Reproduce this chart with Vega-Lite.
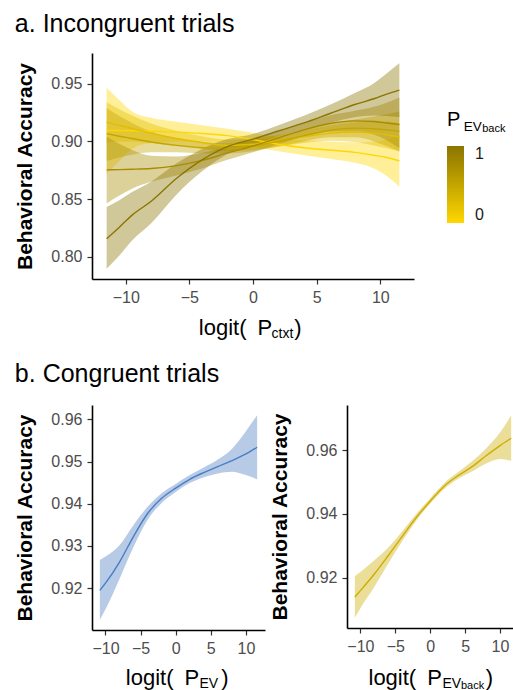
{
  "$schema": "https://vega.github.io/schema/vega-lite/v6.json",
  "background": "white",
  "padding": {"left": 14, "top": 12, "right": 0, "bottom": 0},
  "config": {
    "font": "Liberation Sans",
    "view": {"stroke": null},
    "axis": {
      "grid": false,
      "domainColor": "black",
      "domainWidth": 1.6,
      "tickColor": "#333333",
      "tickWidth": 1.2,
      "tickSize": 5,
      "labelFont": "Liberation Sans",
      "labelFontSize": 16,
      "labelColor": "#4D4D4D",
      "labelPadding": 5,
      "titleFont": "Liberation Sans",
      "titleColor": "black"
    },
    "axisX": {"titleFontSize": 22, "titleFontWeight": "normal"},
    "axisY": {"titleFontSize": 21, "titleFontWeight": "bold", "titlePadding": 15},
    "title": {"font": "Liberation Sans", "fontSize": 25, "fontWeight": "normal", "anchor": "start", "color": "black", "baseline": "alphabetic", "offset": 18}
  },
  "datasets": {
    "incong": [
      {"P": 0, "x": -11.5, "y": 0.9096, "lo": 0.8720, "hi": 0.9466},
      {"P": 0, "x": -10.5, "y": 0.9094, "lo": 0.8830, "hi": 0.9360},
      {"P": 0, "x": -9.5, "y": 0.9092, "lo": 0.8935, "hi": 0.9260},
      {"P": 0, "x": -8, "y": 0.9088, "lo": 0.8985, "hi": 0.9205},
      {"P": 0, "x": -6, "y": 0.9080, "lo": 0.9000, "hi": 0.9170},
      {"P": 0, "x": -4, "y": 0.9068, "lo": 0.9000, "hi": 0.9140},
      {"P": 0, "x": -2, "y": 0.9050, "lo": 0.8990, "hi": 0.9110},
      {"P": 0, "x": 0, "y": 0.9015, "lo": 0.8955, "hi": 0.9075},
      {"P": 0, "x": 2, "y": 0.8975, "lo": 0.8915, "hi": 0.9035},
      {"P": 0, "x": 4, "y": 0.8945, "lo": 0.8883, "hi": 0.9007},
      {"P": 0, "x": 6, "y": 0.8925, "lo": 0.8850, "hi": 0.9000},
      {"P": 0, "x": 8, "y": 0.8905, "lo": 0.8815, "hi": 0.8993},
      {"P": 0, "x": 9.5, "y": 0.8880, "lo": 0.8765, "hi": 0.8995},
      {"P": 0, "x": 10.5, "y": 0.8860, "lo": 0.8700, "hi": 0.9015},
      {"P": 0, "x": 11.5, "y": 0.8832, "lo": 0.8607, "hi": 0.9057},
      {"P": 0.25, "x": -11.5, "y": 0.9166, "lo": 0.8990, "hi": 0.9340},
      {"P": 0.25, "x": -10.5, "y": 0.9140, "lo": 0.9000, "hi": 0.9280},
      {"P": 0.25, "x": -9.5, "y": 0.9112, "lo": 0.9000, "hi": 0.9225},
      {"P": 0.25, "x": -8, "y": 0.9070, "lo": 0.8985, "hi": 0.9155},
      {"P": 0.25, "x": -6, "y": 0.9025, "lo": 0.8960, "hi": 0.9090},
      {"P": 0.25, "x": -4, "y": 0.8990, "lo": 0.8935, "hi": 0.9045},
      {"P": 0.25, "x": -2, "y": 0.8965, "lo": 0.8915, "hi": 0.9015},
      {"P": 0.25, "x": 0, "y": 0.8975, "lo": 0.8925, "hi": 0.9025},
      {"P": 0.25, "x": 2, "y": 0.9005, "lo": 0.8955, "hi": 0.9055},
      {"P": 0.25, "x": 4, "y": 0.9040, "lo": 0.8985, "hi": 0.9095},
      {"P": 0.25, "x": 6, "y": 0.9070, "lo": 0.9005, "hi": 0.9135},
      {"P": 0.25, "x": 8, "y": 0.9082, "lo": 0.8995, "hi": 0.9165},
      {"P": 0.25, "x": 9.5, "y": 0.9072, "lo": 0.8965, "hi": 0.9180},
      {"P": 0.25, "x": 10.5, "y": 0.9058, "lo": 0.8940, "hi": 0.9175},
      {"P": 0.25, "x": 11.5, "y": 0.9038, "lo": 0.8915, "hi": 0.9160},
      {"P": 0.5, "x": -11.5, "y": 0.9067, "lo": 0.8830, "hi": 0.9290},
      {"P": 0.5, "x": -10.5, "y": 0.9045, "lo": 0.8860, "hi": 0.9220},
      {"P": 0.5, "x": -9.5, "y": 0.9025, "lo": 0.8885, "hi": 0.9160},
      {"P": 0.5, "x": -8, "y": 0.8995, "lo": 0.8905, "hi": 0.9085},
      {"P": 0.5, "x": -6, "y": 0.8965, "lo": 0.8905, "hi": 0.9025},
      {"P": 0.5, "x": -4, "y": 0.8945, "lo": 0.8895, "hi": 0.8995},
      {"P": 0.5, "x": -2, "y": 0.8940, "lo": 0.8895, "hi": 0.8985},
      {"P": 0.5, "x": 0, "y": 0.8960, "lo": 0.8915, "hi": 0.9005},
      {"P": 0.5, "x": 2, "y": 0.9000, "lo": 0.8955, "hi": 0.9045},
      {"P": 0.5, "x": 4, "y": 0.9050, "lo": 0.9000, "hi": 0.9100},
      {"P": 0.5, "x": 6, "y": 0.9095, "lo": 0.9035, "hi": 0.9155},
      {"P": 0.5, "x": 8, "y": 0.9115, "lo": 0.9035, "hi": 0.9190},
      {"P": 0.5, "x": 9.5, "y": 0.9110, "lo": 0.9000, "hi": 0.9215},
      {"P": 0.5, "x": 10.5, "y": 0.9100, "lo": 0.8960, "hi": 0.9235},
      {"P": 0.5, "x": 11.5, "y": 0.9087, "lo": 0.8913, "hi": 0.9260},
      {"P": 0.75, "x": -11.5, "y": 0.8753, "lo": 0.8462, "hi": 0.9040},
      {"P": 0.75, "x": -10.5, "y": 0.8755, "lo": 0.8530, "hi": 0.8980},
      {"P": 0.75, "x": -9.5, "y": 0.8758, "lo": 0.8590, "hi": 0.8925},
      {"P": 0.75, "x": -8, "y": 0.8765, "lo": 0.8650, "hi": 0.8875},
      {"P": 0.75, "x": -6, "y": 0.8790, "lo": 0.8705, "hi": 0.8870},
      {"P": 0.75, "x": -4, "y": 0.8835, "lo": 0.8765, "hi": 0.8900},
      {"P": 0.75, "x": -2, "y": 0.8900, "lo": 0.8840, "hi": 0.8958},
      {"P": 0.75, "x": 0, "y": 0.8960, "lo": 0.8905, "hi": 0.9015},
      {"P": 0.75, "x": 2, "y": 0.9030, "lo": 0.8975, "hi": 0.9085},
      {"P": 0.75, "x": 4, "y": 0.9100, "lo": 0.9040, "hi": 0.9160},
      {"P": 0.75, "x": 6, "y": 0.9155, "lo": 0.9085, "hi": 0.9225},
      {"P": 0.75, "x": 8, "y": 0.9178, "lo": 0.9090, "hi": 0.9265},
      {"P": 0.75, "x": 9.5, "y": 0.9172, "lo": 0.9060, "hi": 0.9300},
      {"P": 0.75, "x": 10.5, "y": 0.9160, "lo": 0.9010, "hi": 0.9335},
      {"P": 0.75, "x": 11.5, "y": 0.9146, "lo": 0.8940, "hi": 0.9380},
      {"P": 1, "x": -11.5, "y": 0.8155, "lo": 0.7895, "hi": 0.8430},
      {"P": 1, "x": -10.5, "y": 0.8255, "lo": 0.8010, "hi": 0.8490},
      {"P": 1, "x": -9.5, "y": 0.8360, "lo": 0.8140, "hi": 0.8560},
      {"P": 1, "x": -8, "y": 0.8480, "lo": 0.8290, "hi": 0.8650},
      {"P": 1, "x": -6, "y": 0.8680, "lo": 0.8540, "hi": 0.8810},
      {"P": 1, "x": -4, "y": 0.8840, "lo": 0.8740, "hi": 0.8935},
      {"P": 1, "x": -2, "y": 0.8955, "lo": 0.8890, "hi": 0.9020},
      {"P": 1, "x": 0, "y": 0.9020, "lo": 0.8975, "hi": 0.9065},
      {"P": 1, "x": 2, "y": 0.9090, "lo": 0.9045, "hi": 0.9140},
      {"P": 1, "x": 4, "y": 0.9160, "lo": 0.9100, "hi": 0.9222},
      {"P": 1, "x": 6, "y": 0.9240, "lo": 0.9160, "hi": 0.9315},
      {"P": 1, "x": 8, "y": 0.9320, "lo": 0.9210, "hi": 0.9420},
      {"P": 1, "x": 9.5, "y": 0.9370, "lo": 0.9225, "hi": 0.9505},
      {"P": 1, "x": 10.5, "y": 0.9410, "lo": 0.9220, "hi": 0.9590},
      {"P": 1, "x": 11.5, "y": 0.9445, "lo": 0.9210, "hi": 0.9678}
    ],
    "ev": [
      {"x": -10.8, "y": 0.9195, "lo": 0.9125, "hi": 0.9267},
      {"x": -10, "y": 0.9212, "lo": 0.9150, "hi": 0.9275},
      {"x": -8, "y": 0.9262, "lo": 0.9222, "hi": 0.9302},
      {"x": -6, "y": 0.9323, "lo": 0.9298, "hi": 0.9350},
      {"x": -4, "y": 0.9377, "lo": 0.9362, "hi": 0.9393},
      {"x": -2, "y": 0.9413, "lo": 0.9402, "hi": 0.9425},
      {"x": 0, "y": 0.9437, "lo": 0.9428, "hi": 0.9447},
      {"x": 2, "y": 0.9458, "lo": 0.9449, "hi": 0.9468},
      {"x": 4, "y": 0.9474, "lo": 0.9463, "hi": 0.9486},
      {"x": 6, "y": 0.9488, "lo": 0.9472, "hi": 0.9505},
      {"x": 8, "y": 0.9502, "lo": 0.9476, "hi": 0.9530},
      {"x": 10, "y": 0.9518, "lo": 0.9468, "hi": 0.9572},
      {"x": 11.6, "y": 0.9534, "lo": 0.9458, "hi": 0.9610}
    ],
    "back": [
      {"x": -10.8, "y": 0.9140, "lo": 0.9075, "hi": 0.9205},
      {"x": -10, "y": 0.9160, "lo": 0.9105, "hi": 0.9218},
      {"x": -8, "y": 0.9212, "lo": 0.9172, "hi": 0.9255},
      {"x": -6, "y": 0.9270, "lo": 0.9245, "hi": 0.9295},
      {"x": -4, "y": 0.9330, "lo": 0.9315, "hi": 0.9346},
      {"x": -2, "y": 0.9389, "lo": 0.9379, "hi": 0.9400},
      {"x": 0, "y": 0.9440, "lo": 0.9432, "hi": 0.9449},
      {"x": 2, "y": 0.9487, "lo": 0.9478, "hi": 0.9496},
      {"x": 4, "y": 0.9520, "lo": 0.9510, "hi": 0.9531},
      {"x": 6, "y": 0.9548, "lo": 0.9533, "hi": 0.9565},
      {"x": 8, "y": 0.9582, "lo": 0.9558, "hi": 0.9605},
      {"x": 10, "y": 0.9614, "lo": 0.9572, "hi": 0.9655},
      {"x": 11.6, "y": 0.9637, "lo": 0.9566, "hi": 0.9709}
    ]
  },
  "spacing": 21,
  "vconcat": [
    {
      "title": {"text": "a. Incongruent trials", "offset": 16},
      "width": 322,
      "height": 226,
      "data": {"name": "incong"},
      "layer": [
        {
          "mark": {"type": "area", "fillOpacity": 0.4, "interpolate": "monotone"},
          "encoding": {
            "x": {"field": "x", "type": "quantitative", "scale": {"domain": [-12.65, 12.65], "nice": false, "zero": false},
                  "axis": {"values": [-10, -5, 0, 5, 10], "title": "logit(\u2002P\u2002\u2002)", "titleX": 106.3, "titleY": 55, "titleAlign": "left", "titleBaseline": "alphabetic"}},
            "y": {"field": "lo", "type": "quantitative", "scale": {"domain": [0.7806, 0.9767], "nice": false, "zero": false},
                  "axis": {"values": [0.8, 0.85, 0.9, 0.95], "format": ".2f", "title": "Behavioral Accuracy"}},
            "y2": {"field": "hi"},
            "fill": {
              "field": "P", "type": "quantitative",
              "scale": {"domain": [0, 1], "range": ["#FFD700", "#8B7500"], "interpolate": "lab"},
              "legend": {
                "type": "gradient", "orient": "none", "legendX": 355, "legendY": 57,
                "title": "P", "titleFontSize": 20, "titleFontWeight": "normal", "titleColor": "black", "titlePadding": 16,
                "values": [0, 1], "format": "d", "gradientLength": 77, "gradientThickness": 17, "gradientStrokeWidth": 0, "gradientOpacity": 1,
                "labelFontSize": 16, "labelColor": "#1a1a1a", "labelOffset": 11
              }
            }
          }
        },
        {
          "mark": {"type": "line", "strokeWidth": 1.4, "interpolate": "monotone"},
          "encoding": {
            "x": {"field": "x", "type": "quantitative", "scale": {"domain": [-12.65, 12.65], "nice": false, "zero": false},
                  "axis": {"orient": "bottom", "domain": false, "ticks": false, "labels": false, "title": "ctxt", "titleFontSize": 14, "titleX": 179, "titleY": 58.7, "titleAlign": "left", "titleBaseline": "alphabetic"}},
            "y": {"field": "y", "type": "quantitative", "scale": {"domain": [0.7806, 0.9767], "nice": false, "zero": false},
                  "axis": {"orient": "right", "domain": false, "ticks": false, "labels": false, "title": "EV", "titleAngle": 0, "titleFontSize": 13.5, "titleFontWeight": "normal", "titleX": 49.3, "titleY": 77, "titleAlign": "left", "titleBaseline": "alphabetic"}},
            "stroke": {
              "field": "P", "type": "quantitative",
              "scale": {"range": ["#FFD700", "#8B7500"], "interpolate": "lab"},
              "legend": null
            }
          }
        },
        {
          "mark": {"type": "point", "opacity": 0},
          "encoding": {
            "x": {"field": "x", "type": "quantitative", "scale": {"domain": [-12.65, 12.65], "nice": false, "zero": false}, "axis": null},
            "y": {"field": "y", "type": "quantitative", "scale": {"domain": [0.7806, 0.9767], "nice": false, "zero": false},
                  "axis": {"orient": "right", "domain": false, "ticks": false, "labels": false, "title": "back", "titleAngle": 0, "titleFontSize": 11, "titleFontWeight": "normal", "titleX": 67.7, "titleY": 78.7, "titleAlign": "left", "titleBaseline": "alphabetic"}}
          }
        }
      ],
      "resolve": {"scale": {"x": "independent", "y": "independent"}}
    },
    {
      "title": {"text": "b. Congruent trials"},
      "spacing": 4,
      "hconcat": [
        {
          "width": 173,
          "height": 225,
          "data": {"name": "ev"},
          "layer": [
            {
              "mark": {"type": "area", "color": "#4A7CC4", "opacity": 0.4, "interpolate": "monotone"},
              "encoding": {
                "x": {"field": "x", "type": "quantitative", "scale": {"domain": [-11.92, 12.72], "nice": false, "zero": false},
                      "axis": {"values": [-10, -5, 0, 5, 10], "title": "logit(\u2002P\u2002\u2002)", "titleX": 33.3, "titleY": 54.3, "titleAlign": "left", "titleBaseline": "alphabetic"}},
                "y": {"field": "lo", "type": "quantitative", "scale": {"domain": [0.9101, 0.9634], "nice": false, "zero": false},
                      "axis": {"values": [0.91, 0.92, 0.93, 0.94, 0.95, 0.96], "format": ".2f", "title": "Behavioral Accuracy"}},
                "y2": {"field": "hi"}
              }
            },
            {
              "mark": {"type": "line", "color": "#4A7CC4", "strokeWidth": 1.4, "interpolate": "monotone"},
              "encoding": {
                "x": {"field": "x", "type": "quantitative", "scale": {"domain": [-11.92, 12.72], "nice": false, "zero": false},
                      "axis": {"orient": "bottom", "domain": false, "ticks": false, "labels": false, "title": "EV", "titleFontSize": 14, "titleX": 107, "titleY": 57.3, "titleAlign": "left", "titleBaseline": "alphabetic"}},
                "y": {"field": "y", "type": "quantitative", "scale": {"domain": [0.9101, 0.9634], "nice": false, "zero": false},
                      "axis": {"values": [0.91, 0.92, 0.93, 0.94, 0.95, 0.96], "format": ".2f", "title": "Behavioral Accuracy"}}
              }
            }
          ],
          "resolve": {"scale": {"x": "independent"}}
        },
        {
          "width": 172,
          "height": 223,
          "data": {"name": "back"},
          "layer": [
            {
              "mark": {"type": "area", "color": "#CDAD00", "opacity": 0.4, "interpolate": "monotone"},
              "encoding": {
                "x": {"field": "x", "type": "quantitative", "scale": {"domain": [-11.92, 12.72], "nice": false, "zero": false},
                      "axis": {"values": [-10, -5, 0, 5, 10], "title": "logit(\u2002P\u2003\u2003)", "titleX": 21, "titleY": 56.7, "titleAlign": "left", "titleBaseline": "alphabetic"}},
                "y": {"field": "lo", "type": "quantitative", "scale": {"domain": [0.9043, 0.9741], "nice": false, "zero": false},
                      "axis": {"values": [0.92, 0.94, 0.96], "format": ".2f", "title": "Behavioral Accuracy"}},
                "y2": {"field": "hi"}
              }
            },
            {
              "mark": {"type": "line", "color": "#CDAD00", "strokeWidth": 1.4, "interpolate": "monotone"},
              "encoding": {
                "x": {"field": "x", "type": "quantitative", "scale": {"domain": [-11.92, 12.72], "nice": false, "zero": false},
                      "axis": {"orient": "bottom", "domain": false, "ticks": false, "labels": false, "title": "EV", "titleFontSize": 14, "titleX": 95, "titleY": 59.7, "titleAlign": "left", "titleBaseline": "alphabetic"}},
                "y": {"field": "y", "type": "quantitative", "scale": {"domain": [0.9043, 0.9741], "nice": false, "zero": false},
                      "axis": {"orient": "right", "domain": false, "ticks": false, "labels": false, "title": "back", "titleAngle": 0, "titleFontSize": 11, "titleFontWeight": "normal", "titleX": -58.5, "titleY": 283, "titleAlign": "left", "titleBaseline": "alphabetic"}}
              }
            }
          ],
          "resolve": {"scale": {"x": "independent", "y": "independent"}}
        }
      ]
    }
  ]
}
